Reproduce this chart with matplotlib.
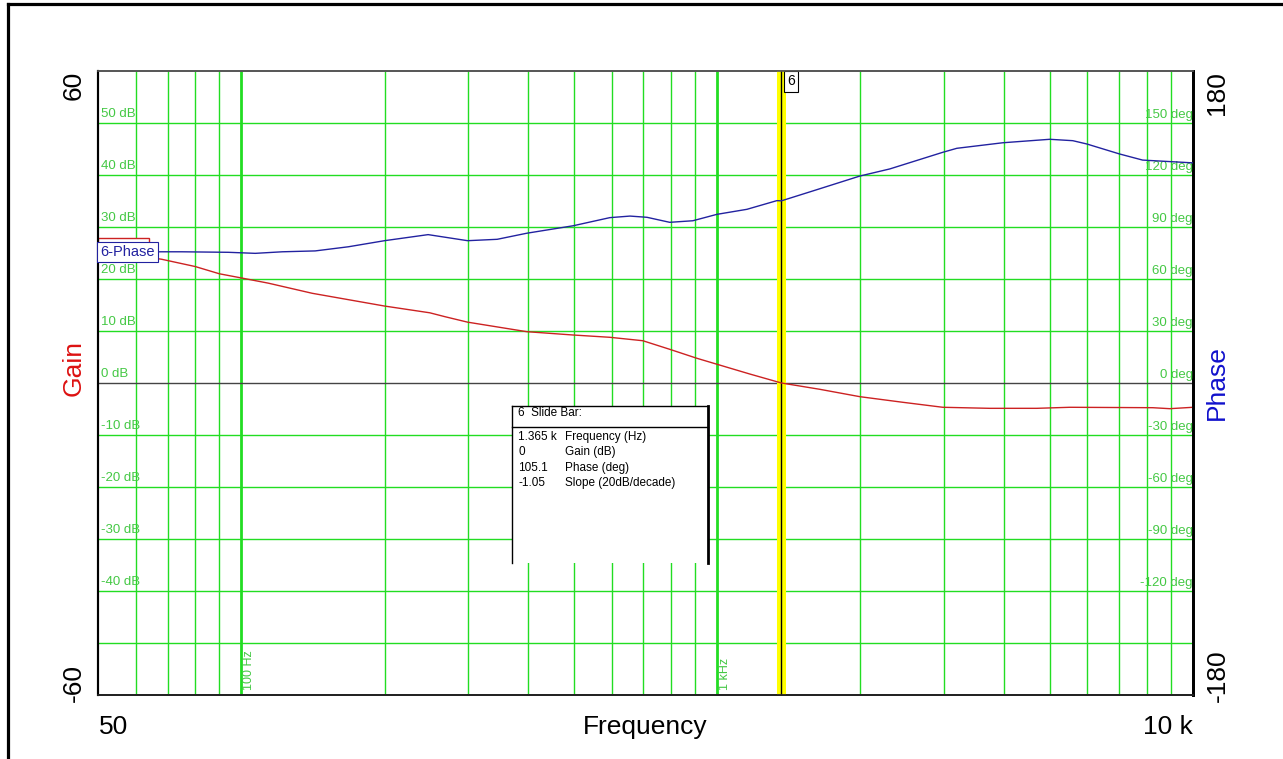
import numpy as np
import matplotlib
matplotlib.use("Agg")
import matplotlib.pyplot as plt
from matplotlib.lines import Line2D
from matplotlib.patches import Rectangle

plt.rcParams["font.family"] = ["Liberation Sans", "DejaVu Sans"]

# ---- data ----
GAIN_F = [50, 68, 80, 90, 99.4, 114, 141, 200, 249, 268, 299, 398, 498, 595, 698,
          795, 907, 1171, 1365, 1643, 1995, 2456, 2980, 3740, 4695, 5508, 8229, 8936, 10000]
GAIN_DB = [25.6, 23.8, 22.4, 21.0, 20.25, 19.2, 17.25, 14.8, 13.5, 12.75, 11.7, 9.87, 9.23,
           8.79, 8.13, 6.48, 4.75, 1.73, 0.0, -1.21, -2.63, -3.71, -4.67, -4.87, -4.87,
           -4.67, -4.75, -4.94, -4.67]
PHASE_F = [50, 68, 75, 94, 107, 122, 143, 168, 200, 247, 299, 345, 398, 498, 595, 656,
           712, 795, 889, 999, 1155, 1335, 1365, 1589, 1995, 2306, 2980, 3189, 3983, 5000,
           5589, 5981, 7016, 7838, 9845, 10000]
PHASE_DEG = [75.6, 75.7, 75.7, 75.4, 74.8, 75.7, 76.2, 78.6, 82.1, 85.6, 82.1, 82.9, 86.4,
             90.7, 95.4, 96.3, 95.6, 92.7, 93.6, 97.3, 100.2, 105.2, 105.1, 110.8, 119.4,
             123.5, 133.1, 135.4, 138.6, 140.6, 139.8, 137.9, 132.1, 128.6, 127.1, 127.0]

MINOR_F = [60, 70, 80, 90, 200, 300, 400, 500, 600, 700, 800, 900,
           2000, 3000, 4000, 5000, 6000, 7000, 8000, 9000]
MAJOR_F = [100, 1000]
MAJOR_LABELS = ["100 Hz", "1 kHz"]
GAIN_TICKS = [50, 40, 30, 20, 10, 0, -10, -20, -30, -40]
PHASE_TICKS = [150, 120, 90, 60, 30, 0, -30, -60, -90, -120]

CURSOR_F = 1365
READOUT_VALS = ["1.365 k", "0", "105.1", "-1.05"]
READOUT_NAMES = ["Frequency (Hz)", "Gain (dB)", "Phase (deg)", "Slope (20dB/decade)"]

GRID = "#22dd22"
LABEL_GREEN = "#44c844"
RED = "#cc2222"
BLUE = "#2222a0"

fig = plt.figure(figsize=(12.83, 7.59), dpi=100)
ax = fig.add_axes([98 / 1283, 1 - 695 / 759, 1095 / 1283, 624 / 759])
ax.set_xscale("log")
ax.set_xlim(50, 10000)
ax.set_ylim(-60, 60)
ax.set_xticks([]); ax.set_yticks([])
ax.minorticks_off()
ax2 = ax.twinx()
ax2.set_ylim(-180, 180)
ax2.set_yticks([])

for f in MINOR_F:
    ax.axvline(f, color=GRID, lw=1.0, zorder=1)
for f, lab in zip(MAJOR_F, MAJOR_LABELS):
    ax.axvline(f, color=GRID, lw=2.0, zorder=1)
    ax.annotate(lab, (f, -60), xytext=(1.5, 3.5), textcoords="offset points",
                rotation=90, ha="left", va="bottom", fontsize=9, color=LABEL_GREEN)
for g in range(-50, 60, 10):
    if g == 0:
        ax.axhline(0, color="#444444", lw=1.0, zorder=2)
    else:
        ax.axhline(g, color=GRID, lw=1.0, zorder=1)

for g in GAIN_TICKS:
    ax.annotate(f"{g} dB", (0, g), xycoords=("axes fraction", "data"),
                xytext=(2.5, 2), textcoords="offset points",
                ha="left", va="bottom", fontsize=9.5, color=LABEL_GREEN)
for p in PHASE_TICKS:
    ax2.annotate(f"{p} deg", (1, p), xycoords=("axes fraction", "data"),
                 xytext=(0, 1.5), textcoords="offset points",
                 ha="right", va="bottom", fontsize=9.5, color=LABEL_GREEN, zorder=3)

# cursor
ax.axvline(CURSOR_F, color="#ffff00", lw=6.5, zorder=3)
ax.axvline(CURSOR_F, color="black", lw=1.0, zorder=4)
ax.annotate("6", (CURSOR_F, 60), xytext=(4, -2.5), textcoords="offset points",
            ha="left", va="top", fontsize=10, zorder=6,
            bbox=dict(boxstyle="square,pad=0.25", fc="white", ec="black", lw=0.8))

ax.plot(GAIN_F, GAIN_DB, color=RED, lw=1.0, zorder=5)
ax2.plot(PHASE_F, PHASE_DEG, color=BLUE, lw=1.0, zorder=5)

# gain trace tag, mostly hidden behind the phase tag
ax.add_patch(Rectangle((GAIN_F[0], GAIN_DB[0] - 1.2), 14, 3.5, fc="white", ec=RED,
                       lw=1.0, zorder=6))
ax2.annotate("6-Phase", (PHASE_F[0], PHASE_DEG[0]), xytext=(1.5, 0), textcoords="offset points",
             ha="left", va="center", fontsize=10.5, color=BLUE, zorder=7,
             bbox=dict(boxstyle="square,pad=0.2", fc="white", ec=BLUE, lw=0.8))

# slide bar readout box
bx0, bx1, by0, by1, bsep = 0.378, 0.557, 0.2115, 0.4636, 0.4295
ax2.add_patch(Rectangle((bx0, by0), bx1 - bx0, by1 - by0, transform=ax.transAxes,
                        fc="white", ec="none", zorder=8))
for xs, ys, lw in [([bx0, bx1], [by1, by1], 1.0), ([bx0, bx1], [bsep, bsep], 1.0),
                   ([bx0, bx0], [by0, by1], 1.0), ([bx1, bx1], [by0, by1], 2.0)]:
    ax2.plot(xs, ys, color="black", lw=lw, transform=ax.transAxes, zorder=9)
ax2.text(0.3836, 0.452, "6  Slide Bar:", transform=ax.transAxes, fontsize=8.5,
         va="center", ha="left", zorder=10)
for i, (v, n) in enumerate(zip(READOUT_VALS, READOUT_NAMES)):
    yy = 0.4135 - i * 0.0246
    ax2.text(0.3836, yy, v, transform=ax.transAxes, fontsize=8.5, va="center", zorder=10)
    ax2.text(0.4265, yy, n, transform=ax.transAxes, fontsize=8.5, va="center", zorder=10)

for a in (ax, ax2):
    a.spines["left"].set_color("black"); a.spines["left"].set_linewidth(1.5)
    a.spines["bottom"].set_color("#222222"); a.spines["bottom"].set_linewidth(1.3)
    a.spines["top"].set_color("#555555"); a.spines["top"].set_linewidth(1.2)
    a.spines["right"].set_color("black"); a.spines["right"].set_linewidth(2.0)

# outer axis texts (pixel positions converted to figure fractions)
W, H = 1283, 759
def fx(px): return px / W
def fy(py): return 1 - py / H
BIG = 19
fig.text(fx(74), fy(71), "60", rotation=90, ha="center", va="top", fontsize=BIG)
fig.text(fx(74), fy(702), "-60", rotation=90, ha="center", va="bottom", fontsize=BIG)
fig.text(fx(1217), fy(71), "180", rotation=90, ha="center", va="top", fontsize=BIG)
fig.text(fx(1218), fy(702), "-180", rotation=90, ha="center", va="bottom", fontsize=BIG)
fig.text(fx(74), fy(368), "Gain", rotation=90, ha="center", va="center", fontsize=BIG, color="#dd1111")
fig.text(fx(1217), fy(383), "Phase", rotation=90, ha="center", va="center", fontsize=BIG, color="#1111cc")
fig.text(fx(99), fy(727), "50", ha="left", va="center", fontsize=BIG)
fig.text(fx(1193), fy(727), "10 k", ha="right", va="center", fontsize=BIG)
fig.text(fx(645), fy(727), "Frequency", ha="center", va="center", fontsize=BIG)

# window frame
fig.add_artist(Line2D([fx(8), fx(8)], [0, fy(4)], color="black", lw=2.3))
fig.add_artist(Line2D([fx(8), 1], [fy(4), fy(4)], color="black", lw=2.3))

fig.savefig("out.png", dpi=100)
